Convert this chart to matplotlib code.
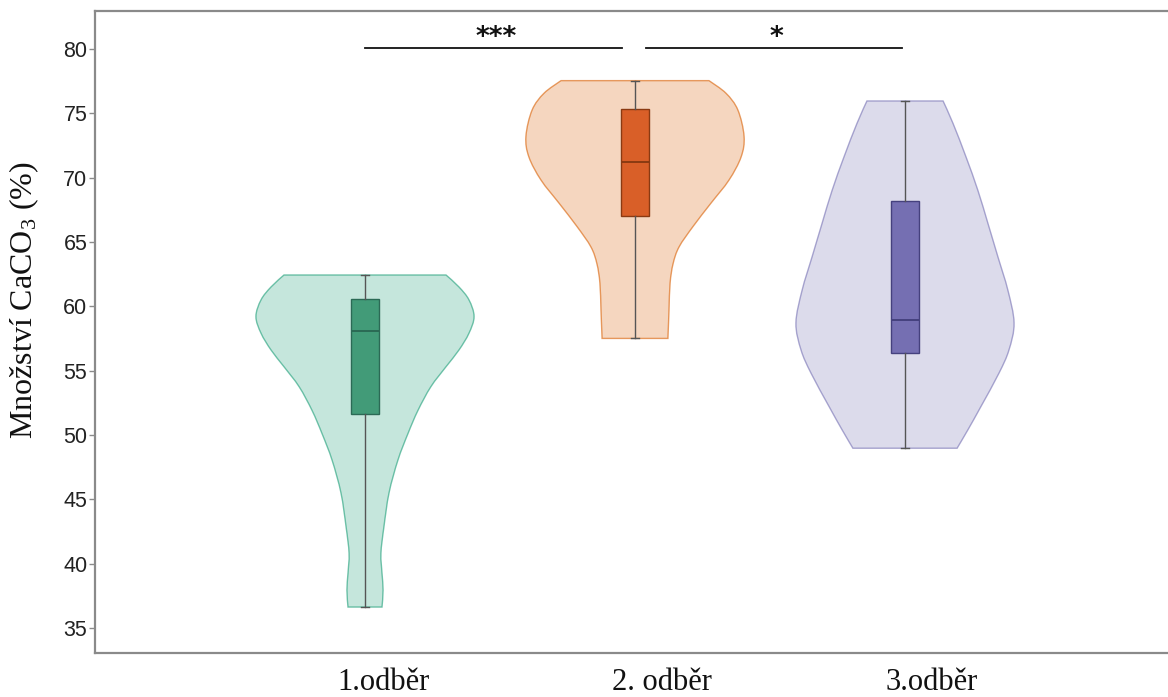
import numpy as np
import matplotlib.pyplot as plt
from matplotlib.path import Path
from matplotlib.patches import PathPatch

plt.rcParams['mathtext.default'] = 'regular'

groups = ['1.odběr', '2. odběr', '3.odběr']
positions = [1, 2, 3]
fill_colors = ['#1b9e77', '#d95f02', '#7570b3']
box_colors = ['#429b78', '#d95f28', '#756fb2']
dark_colors = ['#2b6a55', '#8a3a12', '#45417e']

# violin outlines: CaCO3 level and half width of the density shape
violin1_y = [62.43, 61.5, 60.5, 59.2, 57.9, 56.6, 55.3, 53.75, 51.9, 50.1,
             48.05, 45.5, 42.85, 40.8, 39.25, 37.95, 36.63]
violin1_w = [0.300, 0.348, 0.385, 0.404, 0.385, 0.348, 0.300, 0.244, 0.196, 0.159,
             0.122, 0.089, 0.070, 0.059, 0.063, 0.067, 0.063]
violin2_y = [77.53, 76.55, 75.25, 73.2, 71.6, 69.8, 68.0, 66.2, 64.6, 63.3,
             61.8, 59.7, 57.5]
violin2_w = [0.274, 0.337, 0.381, 0.404, 0.393, 0.348, 0.281, 0.215, 0.163, 0.141,
             0.130, 0.126, 0.122]
violin3_y = [75.95, 74.2, 71.6, 69.0, 66.45, 63.85, 61.25, 58.7, 56.6, 54.8,
             52.2, 50.4, 48.97]
violin3_w = [0.141, 0.178, 0.226, 0.270, 0.307, 0.344, 0.381, 0.404, 0.385, 0.348,
             0.281, 0.233, 0.193]

# box plot statistics
whis_lo = [36.63, 57.5, 48.97]
q1 = [51.63, 67.04, 56.34]
med = [58.08, 71.23, 58.93]
q3 = [60.54, 75.30, 68.18]
whis_hi = [62.43, 77.53, 75.95]

# category labels sit a little right of their violins
label_pos = [1.067, 2.10, 3.10]

# significance brackets
sig_x0 = [1.0, 2.04]
sig_x1 = [1.95, 2.99]
sig_level = 80.05
sig_text = ['***', '*']


def spline_verts(x, y):
    # Catmull-Rom curve through the points as cubic Bezier segments
    pts = np.column_stack([x, y])
    ext = np.vstack([pts[0], pts, pts[-1]])
    verts = [pts[0]]
    for i in range(len(pts) - 1):
        p0, p1, p2, p3 = ext[i], ext[i + 1], ext[i + 2], ext[i + 3]
        verts += [p1 + (p2 - p0) / 6, p2 - (p3 - p1) / 6, p2]
    return verts


def violin_patches(center, ys, ws, color):
    ys = np.asarray(ys)
    ws = np.asarray(ws)
    right = spline_verts(center + ws, ys)
    left = spline_verts(center - ws[::-1], ys[::-1])
    n = len(ys) - 1
    verts = right + left + [right[0]]
    codes = ([Path.MOVETO] + [Path.CURVE4] * 3 * n + [Path.LINETO]
             + [Path.CURVE4] * 3 * n + [Path.CLOSEPOLY])
    path = Path(verts, codes)
    face = PathPatch(path, facecolor=color, alpha=0.25, edgecolor='none', zorder=1)
    edge = PathPatch(path, facecolor='none', edgecolor=color, alpha=0.6,
                     lw=1.0, zorder=1.5)
    return face, edge


fig = plt.figure(figsize=(11.68, 6.97), dpi=100)
ax = fig.add_axes([95 / 1168, 44 / 697, 1083 / 1168, 642 / 697])

violins = [(violin1_y, violin1_w), (violin2_y, violin2_w), (violin3_y, violin3_w)]
for pos, (vy, vw), c in zip(positions, violins, fill_colors):
    for p in violin_patches(pos, vy, vw, c):
        ax.add_patch(p)

stats = [dict(whislo=lo, q1=a, med=m, q3=b, whishi=hi, fliers=[])
         for lo, a, m, b, hi in zip(whis_lo, q1, med, q3, whis_hi)]
bp = ax.bxp(stats, positions=positions, widths=0.104, capwidths=0.033,
            patch_artist=True, showfliers=False, zorder=3, manage_ticks=False,
            whiskerprops=dict(color='#555555', lw=1.0),
            capprops=dict(color='#555555', lw=1.0))
for box, medline, bc, dc in zip(bp['boxes'], bp['medians'], box_colors, dark_colors):
    box.set_facecolor(bc)
    box.set_edgecolor(dc)
    box.set_linewidth(1.0)
    medline.set_color(dc)
    medline.set_linewidth(1.4)

for x0, x1, t in zip(sig_x0, sig_x1, sig_text):
    ax.plot([x0, x1], [sig_level, sig_level], color='#111111', lw=1.3, zorder=4)
    ax.text((x0 + x1) / 2 + 0.01, sig_level + 0.25, t, ha='center', va='baseline',
            fontsize=19, fontweight='bold', family='DejaVu Sans', color='#111111')

ax.set_xlim(0, 1083 / 270)
ax.set_ylim(33.06, 82.94)
ax.set_yticks(np.arange(35, 81, 5))
ax.set_xticks(label_pos)
ax.set_xticklabels(groups, family='Liberation Serif', fontsize=22, color='#111111')
for lab in ax.get_yticklabels():
    lab.set_family('Liberation Sans')
    lab.set_fontsize(15.5)
    lab.set_color('#222222')
ax.tick_params(axis='y', length=4, width=1.0, color='#8a8a8a', pad=1.5)
ax.tick_params(axis='x', length=0, pad=11)

for side in ['left', 'top', 'bottom']:
    ax.spines[side].set_color('#8a8a8a')
    ax.spines[side].set_linewidth(1.6)
ax.spines['right'].set_visible(False)

ax.set_ylabel('Množství CaCO$_3$ (%)', family='Liberation Serif', fontsize=23,
              color='#111111')
ax.yaxis.set_label_coords(-0.050, 0.55)

fig.savefig('out.png', dpi=100)
